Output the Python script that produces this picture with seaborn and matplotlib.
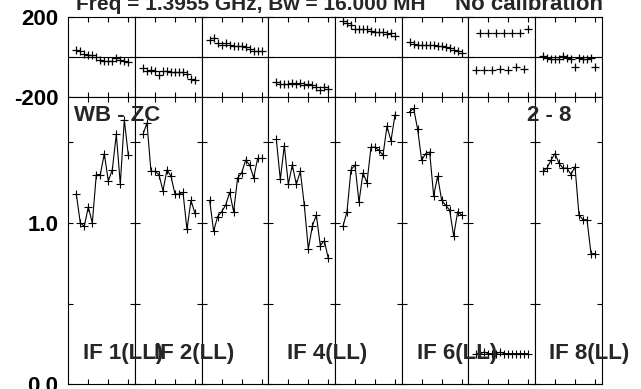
import pandas as pd
import seaborn as sns
import matplotlib.pyplot as plt

sns.set_style('ticks')
plt.rcParams['font.family'] = ['Liberation Sans', 'DejaVu Sans']
plt.rcParams['font.weight'] = 'bold'

# channels plotted in every IF
chans = [2, 3, 4, 5, 6, 7, 8, 9, 10, 11, 12, 13, 14, 15]

# amplitudes per IF
amp_if1 = [1.18, 1.00, 0.98, 1.10, 1.00, 1.30, 1.30, 1.43, 1.26, 1.33, 1.55, 1.24, 1.64, 1.42]
amp_if2 = [1.55, 1.62, 1.32, 1.32, 1.30, 1.20, 1.33, 1.29, 1.18, 1.18, 1.19, 0.96, 1.14, 1.06]
amp_if3 = [1.14, 0.95, 1.04, 1.07, 1.11, 1.19, 1.07, 1.28, 1.31, 1.39, 1.36, 1.28, 1.40, 1.40]
amp_if4 = [1.52, 1.27, 1.48, 1.24, 1.36, 1.24, 1.32, 1.11, 0.84, 0.98, 1.05, 0.86, 0.89, 0.78]
amp_if5 = [0.98, 1.07, 1.33, 1.36, 1.13, 1.31, 1.25, 1.47, 1.47, 1.45, 1.42, 1.60, 1.51, 1.67]
amp_if6 = [1.69, 1.71, 1.58, 1.39, 1.43, 1.44, 1.17, 1.29, 1.14, 1.11, 1.08, 0.92, 1.07, 1.05]
amp_if7 = [0.19, 0.19, 0.20, 0.19, 0.19, 0.19, 0.20, 0.19, 0.19, 0.19, 0.19, 0.19, 0.19, 0.19]
amp_if8 = [1.32, 1.34, 1.39, 1.43, 1.37, 1.34, 1.34, 1.30, 1.35, 1.05, 1.02, 1.02, 0.81, 0.81]

# phases per IF (degrees)
ph_if1 = [33, 27, 13, 8, 8, -3, -17, -20, -23, -20, -7, -15, -23, -25]
ph_if2 = [-58, -70, -67, -70, -90, -73, -73, -75, -75, -78, -78, -87, -112, -117]
ph_if3 = [83, 93, 67, 58, 67, 58, 55, 52, 52, 47, 38, 30, 27, 27]
ph_if4 = [-128, -137, -137, -137, -133, -137, -133, -140, -137, -142, -150, -167, -153, -162]
ph_if5 = [177, 167, 160, 138, 138, 138, 138, 130, 122, 125, 122, 113, 117, 105]
ph_if6 = [72, 63, 60, 58, 58, 58, 58, 55, 52, 50, 43, 33, 30, 18]
ph_if7 = [-68, 119, -68, 119, -68, 119, -63, 119, -68, 119, -54, 119, -60, 136]
ph_if8 = [5, -7, -14, -14, -10, 5, -7, -12, -51, -7, -14, -14, -7, -54]

amps = [amp_if1, amp_if2, amp_if3, amp_if4, amp_if5, amp_if6, amp_if7, amp_if8]
phases = [ph_if1, ph_if2, ph_if3, ph_if4, ph_if5, ph_if6, ph_if7, ph_if8]

if_labels = ['IF 1(LL)', 'IF 2(LL)', 'IF 4(LL)', 'IF 6(LL)', 'IF 8(LL)']
if_label_x = [83, 154, 287, 417, 549]

rows = []
for i in range(8):
    for c, a, p in zip(chans, amps[i], phases[i]):
        rows.append({'IF': i + 1, 'chan': c, 'amp': a, 'phase': p})
df = pd.DataFrame(rows)

W, H = 641, 389
fig = plt.figure(figsize=(W / 100, H / 100), dpi=100)


def box(l, t, w, h):
    return [l / W, 1 - (t + h) / H, w / W, h / H]


x0, pw = 68.3, 66.67
ph_top, ph_bot, am_bot = 16.7, 96.7, 384.3

for i in range(8):
    left = x0 + i * pw
    axp = fig.add_axes(box(left, ph_top, pw, ph_bot - ph_top))
    axa = fig.add_axes(box(left, ph_bot, pw, am_bot - ph_bot))
    d = df[df['IF'] == i + 1]

    axp.axhline(0, color='k', lw=0.8)
    sns.scatterplot(data=d, x='chan', y='phase', ax=axp, marker='+',
                    color='k', s=30, linewidth=0.9, legend=False)
    sns.lineplot(data=d, x='chan', y='amp', ax=axa, color='k', lw=0.8,
                 marker='+', markersize=5.5, markeredgewidth=0.8,
                 markeredgecolor='k')

    for ax in (axp, axa):
        ax.set_xlim(0, 50 / 3)
        ax.set_xticks([5, 10, 15])
        ax.set_xticklabels([])
        ax.set_xlabel('')
        ax.set_ylabel('')
        ax.tick_params(direction='in', top=True, bottom=True, left=True,
                       right=True, length=3.6, width=0.8, labelsize=16,
                       pad=7, colors='k')
        for s in ax.spines.values():
            s.set_linewidth(0.8)
            s.set_color('k')

    axp.set_ylim(-200, 200)
    axp.set_yticks([-200, 0, 200])
    axa.set_ylim(0, 1.783)
    axa.set_yticks([0, 0.5, 1.0, 1.5])
    if i == 0:
        axp.set_yticklabels(['-200', '', '200'])
        axa.set_yticklabels(['0.0', '', '1.0', ''])
    else:
        axp.set_yticklabels([])
        axa.set_yticklabels([])

fig.text(76 / W, 1 - 10.5 / H, 'Freq = 1.3955 GHz, Bw = 16.000 MH',
         fontsize=15, va='baseline')
fig.text(455 / W, 1 - 10.5 / H, 'No calibration', fontsize=16, va='baseline')
fig.text(74 / W, 1 - 115.7 / H, 'WB - ZC', fontsize=16, va='center')
fig.text(527 / W, 1 - 115.7 / H, '2 - 8', fontsize=16, va='center')
for lab, x in zip(if_labels, if_label_x):
    fig.text(x / W, 1 - 354 / H, lab, fontsize=16, va='center')

fig.savefig('out.png', dpi=100)
